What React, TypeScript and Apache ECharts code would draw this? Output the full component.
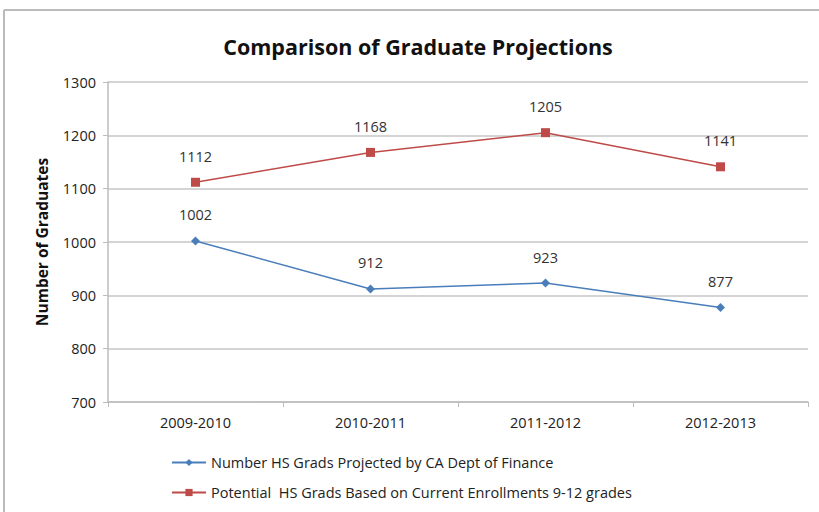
import React, { useEffect, useRef } from "react";
import * as echarts from "echarts";

const categories = ["2009-2010", "2010-2011", "2011-2012", "2012-2013"];
const deptFinance = [1002, 912, 923, 877];
const potential = [1112, 1168, 1205, 1141];
const seriesNames = [
  "Number HS Grads Projected by CA Dept of Finance",
  "Potential  HS Grads Based on Current Enrollments 9-12 grades",
];
const titleText = "Comparison of Graduate Projections";
const yAxisName = "Number of Graduates";

const FONT = "Open Sans";

export default function App() {
  const ref = useRef<HTMLDivElement>(null);
  useEffect(() => {
    const chart = echarts.init(ref.current!, null, { renderer: "svg" });
    const labelStyle = {
      show: true,
      position: "top",
      distance: 14,
      fontFamily: FONT,
      fontSize: 14.5,
      color: "#333",
    };
    chart.setOption({
      animation: false,
      backgroundColor: "#ffffff",
      textStyle: { fontFamily: FONT },
      title: {
        text: titleText,
        left: 413,
        textAlign: "center",
        top: 30,
        textStyle: { fontFamily: FONT, fontSize: 21.5, fontWeight: "bold", color: "#111" },
      },
      graphic: [
        { type: "line", shape: { x1: 4, y1: 10, x2: 819, y2: 10 }, style: { stroke: "#bbbbbb", lineWidth: 2 } },
        { type: "line", shape: { x1: 4, y1: 10, x2: 4, y2: 512 }, style: { stroke: "#bbbbbb", lineWidth: 2 } },
      ],
      grid: { left: 108, right: 11, top: 82, bottom: 110 },
      legend: {
        orient: "vertical",
        left: 166,
        top: 450,
        itemGap: 15,
        itemWidth: 34,
        itemHeight: 9,
        textStyle: { fontFamily: FONT, fontSize: 14.5, color: "#222" },
        data: seriesNames,
      },
      xAxis: {
        type: "category",
        data: categories,
        boundaryGap: true,
        axisLine: { lineStyle: { color: "#bdbdbd", width: 1.5 } },
        axisTick: { show: true, alignWithLabel: false, length: 5, lineStyle: { color: "#bdbdbd" } },
        axisLabel: { fontFamily: FONT, fontSize: 14.5, color: "#222", margin: 13 },
      },
      yAxis: {
        type: "value",
        min: 700,
        max: 1300,
        interval: 100,
        name: yAxisName,
        nameLocation: "middle",
        nameGap: 58,
        nameTextStyle: { fontFamily: FONT, fontSize: 15.5, fontWeight: "bold", color: "#111" },
        axisLine: { show: true, lineStyle: { color: "#bdbdbd", width: 1.5 } },
        axisTick: { show: true, length: 5, lineStyle: { color: "#bdbdbd" } },
        axisLabel: {
          fontFamily: FONT,
          fontSize: 14.5,
          color: "#222",
          margin: 12,
          formatter: (v: number) => String(v),
        },
        splitLine: { lineStyle: { color: "#d4d4d4", width: 2 } },
      },
      series: [
        {
          name: seriesNames[0],
          type: "line",
          data: deptFinance,
          color: "#4a7ebb",
          symbol: "diamond",
          symbolSize: 9,
          lineStyle: { width: 1.5, color: "#4a7ebb" },
          itemStyle: { color: "#4a7ebb" },
          label: labelStyle,
        },
        {
          name: seriesNames[1],
          type: "line",
          data: potential,
          color: "#be4b48",
          symbol: "rect",
          symbolSize: 9,
          lineStyle: { width: 1.5, color: "#be4b48" },
          itemStyle: { color: "#be4b48" },
          label: labelStyle,
        },
      ],
    });
    return () => chart.dispose();
  }, []);
  return <div ref={ref} style={{ width: 819, height: 512, position: "absolute", left: 0, top: 0 }} />;
}
